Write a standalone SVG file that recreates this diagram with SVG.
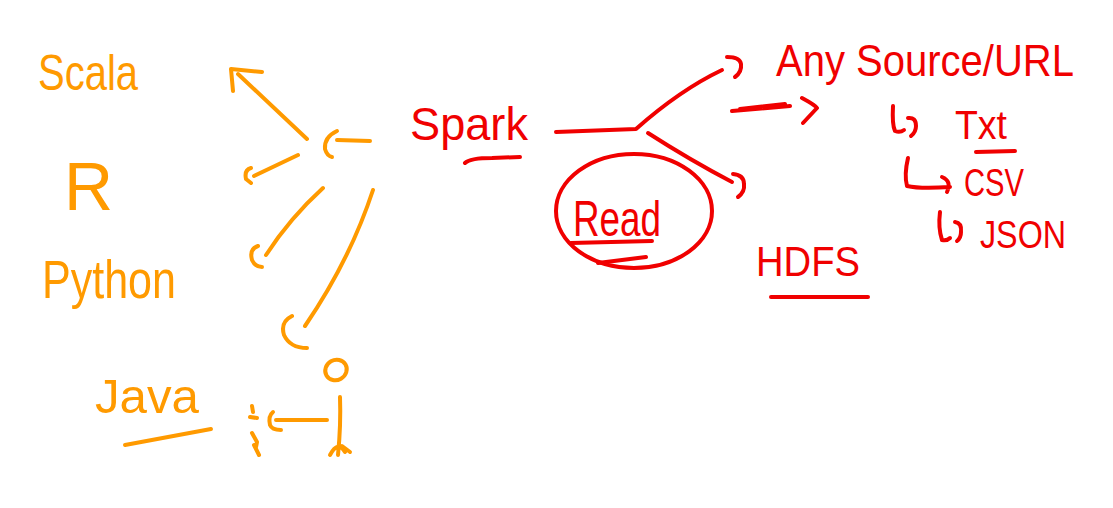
<svg xmlns="http://www.w3.org/2000/svg" width="1113" height="508" viewBox="0 0 1113 508">
<style>
.o{fill:none;stroke:#FF9A00;stroke-width:4;stroke-linecap:round;stroke-linejoin:round}
.r{fill:none;stroke:#F00000;stroke-width:4;stroke-linecap:round;stroke-linejoin:round}
.to{fill:#FF9A00;font-family:"Liberation Sans",sans-serif}
.tr{fill:#F00000;font-family:"Liberation Sans",sans-serif}
</style>
<rect width="1113" height="508" fill="#fff"/>
<g id="scala"><text class="to" x="38" y="90" font-size="50" textLength="100" lengthAdjust="spacingAndGlyphs">Scala</text></g>
<g id="r"><text class="to" x="64" y="210" font-size="68">R</text></g>
<g id="python"><text class="to" x="42" y="298" font-size="54" textLength="134" lengthAdjust="spacingAndGlyphs">Python</text></g>
<g id="java"><text class="to" x="95" y="413" font-size="48" textLength="104" lengthAdjust="spacingAndGlyphs">Java</text>
<path class="o" d="M125 445 L211 429"/></g>
<g id="person">
<ellipse class="o" cx="336" cy="370" rx="11" ry="10" transform="rotate(-30 336 370)"/>
<path class="o" d="M340 397 Q341 425 338 455 M330 455 Q338 440 345 452 M342 446 L350 452"/>
<path class="o" d="M252 406 L253 412 M250 417 L257 418 M252 433 L257 442 L256 447 M254 445 L259 455"/>
</g>
<g id="spark"><text class="tr" x="410" y="140" font-size="46" textLength="118" lengthAdjust="spacingAndGlyphs">Spark</text>
<path class="r" d="M465 163 Q470 158 492 158 L520 157"/></g>
<g id="read"><ellipse class="r" cx="634" cy="211" rx="78" ry="57"/>
<text class="tr" x="573" y="236" font-size="50" textLength="88" lengthAdjust="spacingAndGlyphs">Read</text>
<path class="r" d="M571 243 L652 241 M598 263 L646 257"/></g>
<g id="anysource"><text class="tr" x="776" y="76" font-size="44" textLength="298" lengthAdjust="spacingAndGlyphs">Any Source/URL</text></g>
<g id="txt"><text class="tr" x="955" y="139" font-size="40" textLength="52" lengthAdjust="spacingAndGlyphs">Txt</text>
<path class="r" d="M976 152 L1015 151"/></g>
<g id="csv"><text class="tr" x="964" y="196" font-size="38" textLength="60" lengthAdjust="spacingAndGlyphs">CSV</text></g>
<g id="json"><text class="tr" x="980" y="248" font-size="38" textLength="86" lengthAdjust="spacingAndGlyphs">JSON</text></g>
<g id="hdfs"><text class="tr" x="756" y="276" font-size="42" textLength="104" lengthAdjust="spacingAndGlyphs">HDFS</text>
<path class="r" d="M771 297 L868 297"/></g>
<g id="connectors">
<path class="o" d="M307 139 L238 74 M231 69 L262 72 M231 69 L233 91"/>
<path class="o" d="M370 141 L337 140 M337 131 Q324 137 325 149 Q327 156 332 157"/>
<path class="o" d="M298 155 L254 176 M251 168 Q244 170 246 179 L251 183"/>
<path class="o" d="M323 188 Q290 218 266 255 M258 246 Q249 249 252 260 Q255 267 262 267"/>
<path class="o" d="M373 190 Q350 260 305 326 M292 316 Q280 322 284 335 Q290 348 307 348"/>
<path class="o" d="M327 420 L276 420 M273 412 Q268 416 270 425 Q272 430 281 430"/>
<path class="r" d="M556 132 L636 129 Q680 90 722 70 M727 57 Q740 57 741 64 Q742 72 735 77"/>
<path class="r" d="M648 133 Q690 160 732 182 M733 174 Q744 175 744 184 Q745 192 738 197"/>
<path class="r" d="M732 111 L790 106 M740 109 L785 104 M802 98 Q815 105 817 108 L803 123"/>
<path class="r" d="M893 106 Q892 125 895 131 Q900 133 904 130 M908 118 Q916 117 916 126 Q916 132 911 136"/>
<path class="r" d="M908 158 Q904 175 907 186 Q920 189 950 187 M942 177 Q952 181 947 192"/>
<path class="r" d="M940 212 Q938 228 942 240 Q947 241 950 238 M955 222 Q962 223 961 232 Q961 238 957 241"/>
</g>
</svg>
